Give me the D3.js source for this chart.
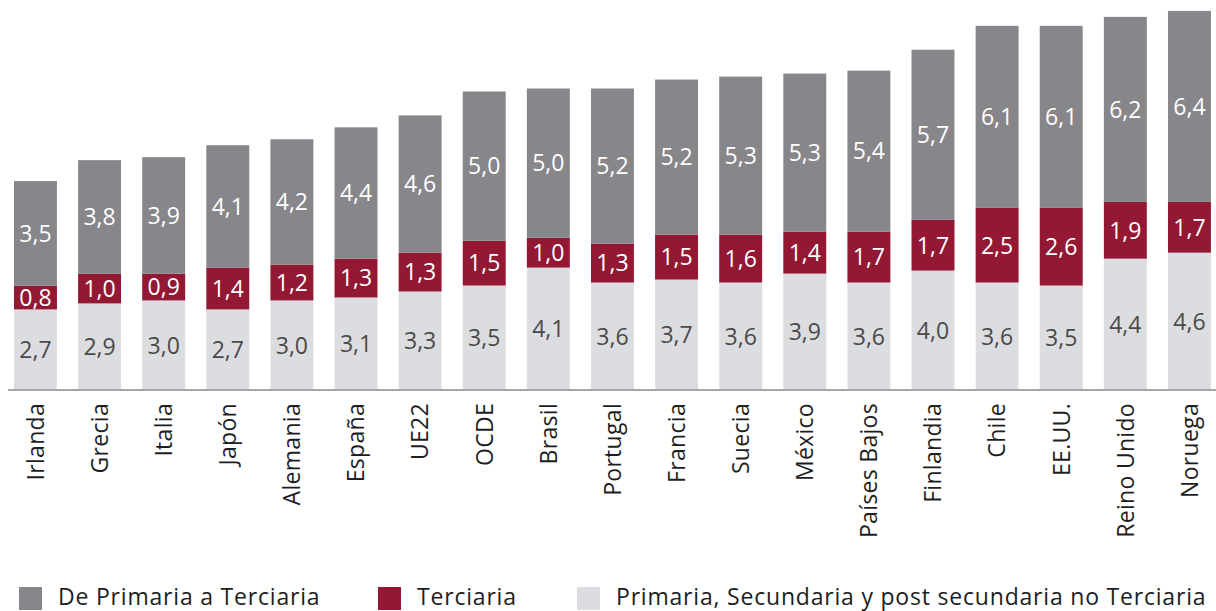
<!DOCTYPE html>
<html>
<head>
<meta charset="utf-8">
<script src="https://cdn.jsdelivr.net/npm/d3@7"></script>
<style>
    body { margin: 0; background: #fff; }
    #chart text { font-family: 'Open Sans', sans-serif; }
</style>
</head>
<body>
<script>
const chartWidth = 1216;
const chartHeight = 611;

const categories = ['Irlanda', 'Grecia', 'Italia', 'Japón', 'Alemania', 'España', 'UE22', 'OCDE',
    'Brasil', 'Portugal', 'Francia', 'Suecia', 'México', 'Países Bajos', 'Finlandia', 'Chile',
    'EE.UU.', 'Reino Unido', 'Noruega'];
const primariaValues = [2.7, 2.9, 3.0, 2.7, 3.0, 3.1, 3.3, 3.5, 4.1, 3.6, 3.7, 3.6, 3.9, 3.6, 4.0, 3.6, 3.5, 4.4, 4.6];
const terciariaValues = [0.8, 1.0, 0.9, 1.4, 1.2, 1.3, 1.3, 1.5, 1.0, 1.3, 1.5, 1.6, 1.4, 1.7, 1.7, 2.5, 2.6, 1.9, 1.7];
const totalValues = [3.5, 3.8, 3.9, 4.1, 4.2, 4.4, 4.6, 5.0, 5.0, 5.2, 5.2, 5.3, 5.3, 5.4, 5.7, 6.1, 6.1, 6.2, 6.4];
const seriesNames = ['Primaria, Secundaria y post secundaria no Terciaria', 'Terciaria', 'De Primaria a Terciaria'];
const legendOrder = ['De Primaria a Terciaria', 'Terciaria', 'Primaria, Secundaria y post secundaria no Terciaria'];

const colors = {
    'Primaria, Secundaria y post secundaria no Terciaria': '#dcdde1',
    'Terciaria': '#931834',
    'De Primaria a Terciaria': '#87868b'
};
const labelColors = {
    'Primaria, Secundaria y post secundaria no Terciaria': '#4a4a4a',
    'Terciaria': '#ffffff',
    'De Primaria a Terciaria': '#ffffff'
};

const rows = categories.map((c, i) => ({
    cat: c,
    [seriesNames[0]]: primariaValues[i],
    [seriesNames[1]]: terciariaValues[i],
    [seriesNames[2]]: totalValues[i]
}));

const stacked = d3.stack().keys(seriesNames)(rows);

const chart = d3.select('body')
    .append('svg')
    .attr('id', 'chart')
    .attr('width', chartWidth)
    .attr('height', chartHeight);

const baseY = 390;

const x = d3.scaleBand()
    .domain(categories)
    .range([3.4, 1221.5])
    .paddingInner(0.33)
    .paddingOuter(0.165);
const y = d3.scaleLinear()
    .domain([0, 13])
    .range([baseY, baseY - 13 * 29.85]);

const layers = chart.selectAll('g.layer')
    .data(stacked)
    .enter()
    .append('g')
    .attr('class', 'layer')
    .attr('fill', d => colors[d.key]);

layers.selectAll('rect')
    .data(d => d)
    .enter()
    .append('rect')
    .attr('x', d => x(d.data.cat))
    .attr('y', d => y(d[1]))
    .attr('width', x.bandwidth())
    .attr('height', d => y(d[0]) - y(d[1]));

chart.selectAll('g.labels')
    .data(stacked)
    .enter()
    .append('g')
    .attr('class', 'labels')
    .attr('fill', d => labelColors[d.key])
    .selectAll('text')
    .data(d => d)
    .enter()
    .append('text')
    .attr('x', d => x(d.data.cat) + x.bandwidth() / 2)
    .attr('y', d => (y(d[0]) + y(d[1])) / 2)
    .attr('dy', '0.36em')
    .attr('text-anchor', 'middle')
    .style('font-size', '23px')
    .text(d => d3.format('.1f')(d[1] - d[0]).replace('.', ','));

const xAxis = d3.axisBottom(x).tickSize(0).tickSizeOuter(0);

const axisG = chart.append('g')
    .attr('class', 'axis')
    .attr('transform', `translate(0, ${baseY})`)
    .call(xAxis);
axisG.select('.domain')
    .attr('stroke', '#a5a5aa')
    .attr('stroke-width', 2)
    .attr('d', 'M8,0H1216');
axisG.selectAll('.tick text')
    .attr('transform', 'rotate(-90)')
    .attr('text-anchor', 'end')
    .attr('x', -13)
    .attr('y', 0)
    .attr('dy', '0.36em')
    .attr('fill', '#1e1e1e')
    .style('font-size', '23px')
    .style('letter-spacing', '0.3px');

const legendX = [19, 378, 577];
const legend = chart.selectAll('g.legend')
    .data(legendOrder)
    .enter()
    .append('g')
    .attr('class', 'legend')
    .attr('transform', (d, i) => `translate(${legendX[i]}, 587)`);
legend.append('rect')
    .attr('width', 23)
    .attr('height', 23)
    .attr('fill', d => colors[d]);
legend.append('text')
    .attr('x', 39)
    .attr('y', 18)
    .attr('fill', '#1e1e1e')
    .style('font-size', '23px')
    .style('letter-spacing', '0.8px')
    .text(d => d);
</script>
</body>
</html>
